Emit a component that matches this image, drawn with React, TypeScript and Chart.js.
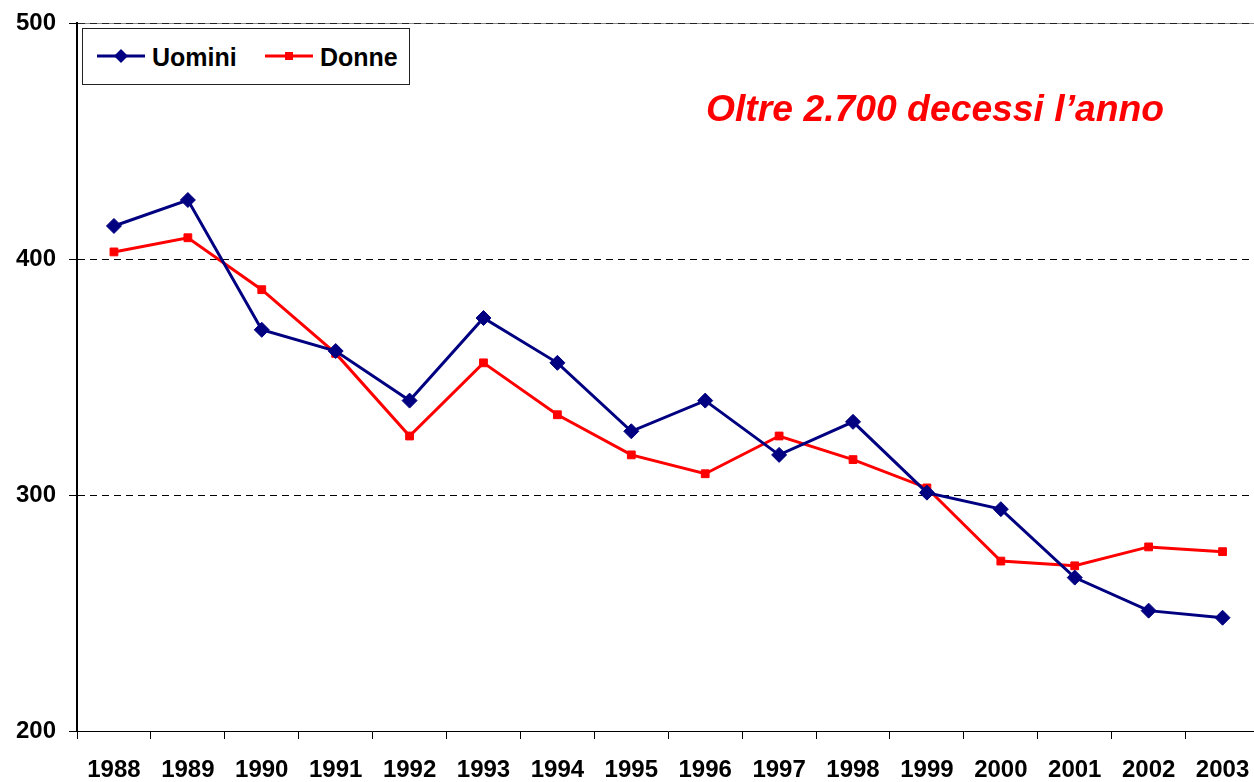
import React, { useEffect, useRef } from "react";
import { Chart, registerables } from "chart.js";

Chart.register(...registerables);

const years = ["1988", "1989", "1990", "1991", "1992", "1993", "1994", "1995", "1996", "1997", "1998", "1999", "2000", "2001", "2002", "2003"];
const uomini = [414, 425, 370, 361, 340, 375, 356, 327, 340, 317, 331, 301, 294, 265, 251, 248];
const donne = [403, 409, 387, 360, 325, 356, 334, 317, 309, 325, 315, 303, 272, 270, 278, 276];
const yTicks = [200, 300, 400, 500];
const seriesNames = ["Uomini", "Donne"];
const annotationText = "Oltre 2.700 decessi l\u2019anno";

const NAVY = "#000080";
const RED = "#FF0000";
const FONT = "'Liberation Sans', Arial, Helvetica, sans-serif";

const topLinePlugin = {
  id: "topLine",
  beforeDraw(chart: any) {
    const { ctx, chartArea } = chart;
    ctx.save();
    ctx.strokeStyle = "#8a8a8a";
    ctx.lineWidth = 1;
    ctx.beginPath();
    ctx.moveTo(chartArea.left - 8, Math.round(chartArea.top) + 0.5);
    ctx.lineTo(chartArea.right, Math.round(chartArea.top) + 0.5);
    ctx.stroke();
    ctx.restore();
  },
};

export default function App() {
  const ref = useRef<HTMLCanvasElement | null>(null);

  useEffect(() => {
    if (!ref.current) return;
    const chart = new Chart(ref.current, {
      type: "line",
      data: {
        labels: years,
        datasets: [
          {
            label: seriesNames[0],
            data: uomini,
            borderColor: NAVY,
            backgroundColor: NAVY,
            borderWidth: 3,
            pointStyle: "rectRot",
            pointRadius: 7.5,
            pointBorderWidth: 1,
            pointBackgroundColor: NAVY,
            pointBorderColor: NAVY,
            tension: 0,
          },
          {
            label: seriesNames[1],
            data: donne,
            borderColor: RED,
            backgroundColor: RED,
            borderWidth: 3,
            pointStyle: "rect",
            pointRadius: 5.5,
            pointBorderWidth: 1,
            pointBackgroundColor: RED,
            pointBorderColor: RED,
            tension: 0,
          },
        ],
      },
      options: {
        animation: false,
        responsive: false,
        maintainAspectRatio: false,
        layout: { padding: { left: 0, top: 23, right: 4, bottom: 0 } },
        plugins: {
          legend: { display: false },
          tooltip: { enabled: false },
          title: { display: false },
        },
        scales: {
          x: {
            type: "category",
            offset: true,
            grid: {
              offset: true,
              drawOnChartArea: false,
              drawTicks: true,
              tickLength: 8,
              tickColor: "#000",
              tickWidth: 1,
            },
            border: { display: true, color: "#000", width: 1 },
            ticks: {
              color: "#000",
              font: { family: FONT, size: 24, weight: "bold" },
              padding: 17,
              maxRotation: 0,
              autoSkip: false,
            },
            afterFit: (s: any) => {
              s.height = 51;
            },
          },
          y: {
            min: 200,
            max: 500,
            afterBuildTicks: (s: any) => {
              s.ticks = yTicks.map((v) => ({ value: v }));
            },
            grid: {
              color: (c: any) => (c.tick && c.tick.value === 200 ? "rgba(0,0,0,0)" : c.tick && c.tick.value === 500 ? "#222" : "#000"),
              lineWidth: 1,
              drawTicks: true,
              tickLength: 8,
              tickColor: "#000",
              tickWidth: 1,
              tickBorderDash: [],
            },
            border: { display: true, color: "#000", width: 2, dash: [7, 5] },
            ticks: {
              color: "#000",
              font: { family: FONT, size: 24, weight: "bold" },
              padding: 13,
            },
            afterFit: (s: any) => {
              s.width = 77;
              s.paddingTop = 0;
              s.paddingBottom = 0;
            },
          },
        },
      },
      plugins: [topLinePlugin],
    });
    return () => chart.destroy();
  }, []);

  return (
    <div style={{ position: "fixed", left: 0, top: 0, width: 1254, height: 782, overflow: "hidden", background: "#fff" }}>
      <canvas ref={ref} width={1268} height={782} style={{ position: "absolute", left: 0, top: 0, width: 1268, height: 782 }} />
      <div
        style={{
          position: "absolute",
          left: 82,
          top: 28,
          width: 328,
          height: 57,
          boxSizing: "border-box",
          border: "1px solid #222",
          background: "#fff",
          fontFamily: FONT,
          fontWeight: "bold",
          fontSize: 25,
          color: "#000",
        }}
      >
        <svg width={326} height={55} style={{ position: "absolute", left: 0, top: 0 }}>
          <line x1={14} y1={27} x2={62} y2={27} stroke={NAVY} strokeWidth={3} />
          <polygon points="38,20 45,27 38,34 31,27" fill={NAVY} />
          <line x1={182} y1={27} x2={230} y2={27} stroke={RED} strokeWidth={3} />
          <rect x={202} y={23} width={8} height={8} fill={RED} />
        </svg>
        <span style={{ position: "absolute", left: 69, top: 16, lineHeight: "25px", whiteSpace: "nowrap" }}>{seriesNames[0]}</span>
        <span style={{ position: "absolute", left: 237, top: 16, lineHeight: "25px", whiteSpace: "nowrap" }}>{seriesNames[1]}</span>
      </div>
      <div
        style={{
          position: "absolute",
          left: 706,
          top: 90,
          lineHeight: "37px",
          fontFamily: FONT,
          fontWeight: "bold",
          fontStyle: "italic",
          fontSize: 37.3,
          color: RED,
          whiteSpace: "nowrap",
        }}
      >
        {annotationText}
      </div>
    </div>
  );
}
